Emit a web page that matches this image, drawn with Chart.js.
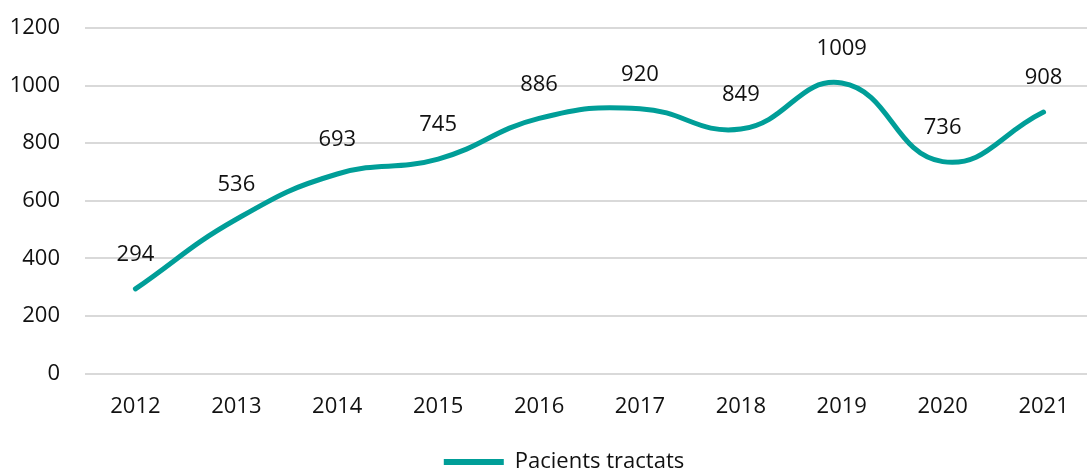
<!DOCTYPE html>
<html><head><meta charset="utf-8">
<script src="https://cdn.jsdelivr.net/npm/chart.js@4/dist/chart.umd.min.js"></script>
<style>html,body{margin:0;padding:0;background:#fff;overflow:hidden}#wrap{width:1094px;height:483px}</style>
</head><body><div id="wrap"><canvas id="c"></canvas></div>
<script>
const years = ['2012','2013','2014','2015','2016','2017','2018','2019','2020','2021'];
const patients = [294,536,693,745,886,920,849,1009,736,908];
const seriesName = 'Pacients tractats';
const yTicks = [0,200,400,600,800,1000,1200];
const teal = '#009E98';
const FONT = "'Open Sans','Noto Sans',sans-serif";
const TXT = '#111111';

const labelPlugin = {
  id:'vals',
  afterLayout(chart){ chart.legend.left += 12; chart.legend.right += 12; },
  afterDatasetsDraw(chart){
    const ctx = chart.ctx; const meta = chart.getDatasetMeta(0);
    ctx.save();
    ctx.font = "22px " + FONT; ctx.fillStyle = TXT;
    ctx.textAlign='center'; ctx.textBaseline='middle';
    meta.data.forEach((p,i)=>{ ctx.fillText(String(patients[i]), p.x, p.y-34); });
    ctx.restore();
  }
};

new Chart(document.getElementById('c'),{
  type:'line',
  data:{labels:years,datasets:[{label:seriesName,data:patients,borderColor:teal,backgroundColor:teal,borderWidth:5,tension:0.45,pointRadius:0,borderCapStyle:'round',fill:false}]},
  options:{
    responsive:true, maintainAspectRatio:false, animation:false,
    layout:{padding:{top:28,right:0,left:10,bottom:0}},
    plugins:{
      legend:{position:'bottom',labels:{font:{family:FONT,size:22},color:TXT,boxWidth:60,boxHeight:6,padding:31,
        generateLabels(chart){ const l = Chart.defaults.plugins.legend.labels.generateLabels(chart); l.forEach(x=>{x.lineWidth=0;x.fillStyle=teal;}); return l; }}},
      tooltip:{enabled:false}
    },
    scales:{
      x:{offset:true,grid:{display:false},border:{display:false},
        ticks:{font:{family:FONT,size:22},color:TXT,padding:12,maxRotation:0},
        afterFit(ax){ax.height=46.4;ax.paddingLeft=0;ax.paddingRight=0;}},
      y:{min:0,max:1200,afterBuildTicks(ax){ax.ticks=yTicks.map(v=>({value:v}));},
        grid:{color:'#d9d9d9',lineWidth:2,drawTicks:false},border:{display:false},
        ticks:{font:{family:FONT,size:22},color:TXT,padding:25,callback:v=>String(v)},
        afterFit(ax){ax.width=75;ax.paddingTop=0;ax.paddingBottom=0;}}
    }
  },
  plugins:[labelPlugin]
});
</script></body></html>
